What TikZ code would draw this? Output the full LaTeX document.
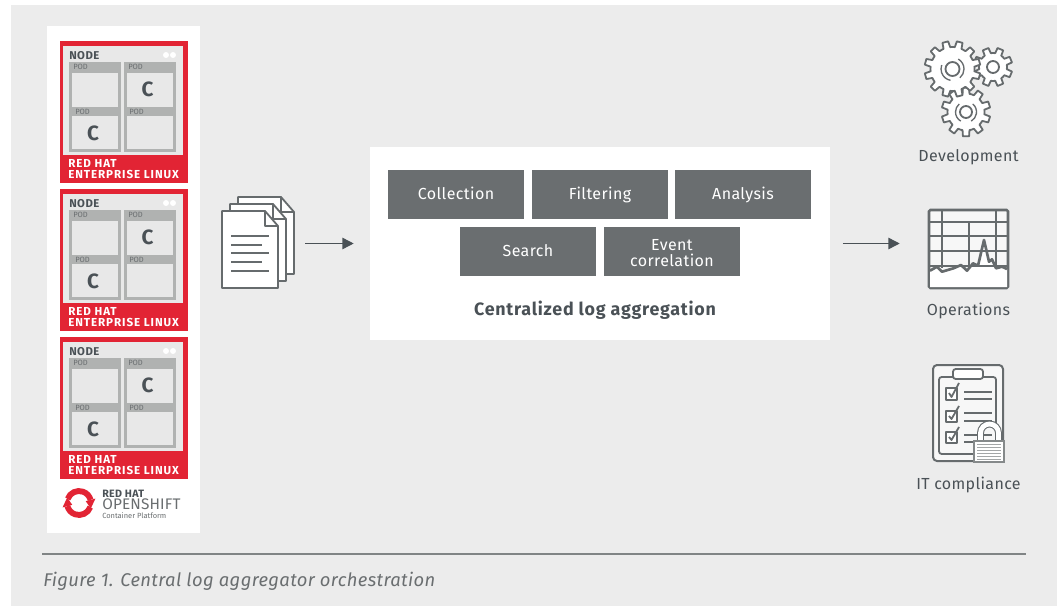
\documentclass[tikz,border=0pt]{standalone}
\usepackage{fontspec}
\setmainfont{Fira Sans}
\usetikzlibrary{arrows.meta}
\definecolor{bgc}{HTML}{ECECEC}
\definecolor{boxc}{HTML}{6A6E70}
\definecolor{inkc}{HTML}{4A5156}
\definecolor{redc}{HTML}{E22434}
\definecolor{podc}{HTML}{B0B2B1}
\definecolor{slotc}{HTML}{E8E8E8}
\definecolor{iconc}{HTML}{666B6D}
\newcommand{\fsz}[1]{\fontsize{#1}{#1}\selectfont}
\tikzset{
  x=0.75pt,y=-0.75pt,
  stepbox/.style={fill=boxc,text=white,minimum width=102pt,minimum height=36.75pt,inner sep=0pt,align=center,font=\fsz{12}\addfontfeatures{LetterSpace=2.5}},
  single/.style={text height=9.5pt,text depth=1.5pt},
  lbl/.style={inner sep=0pt,text=inkc,text height=9.5pt,text depth=1.5pt,font=\fsz{12}\addfontfeatures{LetterSpace=2.2}},
  flow/.style={draw=inkc,line width=1.1pt,-{Triangle[length=8.5pt,width=8.5pt]}},
  icon/.style={draw=iconc,line width=1.35pt,line join=round},
  thin icon/.style={draw=iconc,line width=1pt},
  podlbl/.style={inner sep=0pt,anchor=west,text=boxc,font=\fsz{5.7}},
  cnt/.style={inner sep=0pt,text=inkc,font=\bfseries\fsz{15.5}},
  rhel/.style={inner sep=0pt,anchor=west,text=white,font=\bfseries\fsz{8.7}\addfontfeatures{LetterSpace=8}},
  ghost/.style={inner sep=0pt,draw=none}
}
% gear: centre x,y ; teeth ; outer radius ; root radius
\newcommand{\gear}[5]{%
  \begin{scope}[shift={(#1,#2)}]
    \pgfmathsetmacro{\st}{360/#3}
    \filldraw[icon,fill=white]
      (0:#5) \foreach \k in {1,...,#3}{
        -- ({(\k-1)*\st+0.2*\st}:#5)
        -- ({(\k-1)*\st+0.3*\st}:#4)
        -- ({(\k-1)*\st+0.7*\st}:#4)
        -- ({(\k-1)*\st+0.8*\st}:#5)
        -- ({\k*\st}:#5)
      } -- cycle;
  \end{scope}}
\newcommand{\kubenode}[2]{%
  \begin{scope}[shift={(0,#1)}]
    \fill[redc] (60,41) rectangle (188,183);
    \fill[slotc] (63,46) rectangle (183,155);
    \fill[podc] (69,62) rectangle (121,152);
    \fill[podc] (124,62) rectangle (176,152);
    \fill[slotc] (72,73) rectangle (118,107);
    \fill[slotc] (72,116) rectangle (118,149);
    \fill[slotc] (127,73) rectangle (173,107);
    \fill[slotc] (127,116) rectangle (173,149);
    \fill[white] (166,55) circle (3) (173,55) circle (3);
    \node[inner sep=0pt,anchor=west,text=inkc,font=\bfseries\fsz{8.5}\addfontfeatures{LetterSpace=4}] (nd#2) at (69,55.5) {NODE};
    \node[podlbl] (pa#2) at (73,67) {POD};
    \node[podlbl] (pb#2) at (128,67) {POD};
    \node[podlbl] (pc#2) at (75,112) {POD};
    \node[podlbl] (pd#2) at (129,112) {POD};
    \node[cnt] (ca#2) at (147.5,89) {C};
    \node[cnt] (cb#2) at (93,133) {C};
    \node[rhel] (ra#2) at (68,163) {RED HAT};
    \node[rhel] (rb#2) at (68,174) {ENTERPRISE LINUX};
  \end{scope}}
\newcommand{\page}[2]{%
  \filldraw[icon,fill=white] (#1,#2) -- ++(43,0) -- ++(13,15) -- ++(0,62) -- ++(-56,0) -- cycle;
  \draw[icon] (#1+43,#2) -- ++(0,15) -- ++(13,0);}
\begin{document}
\begin{tikzpicture}
\useasboundingbox (0,0) rectangle (1060,606);
\fill[white] (0,0) rectangle (1060,606);
\fill[bgc] (11,5) rectangle (1057,606);
% left panel
\fill[white] (47,26) rectangle (200,533);
\kubenode{0}{a}
\kubenode{148}{b}
\kubenode{296}{c}
% openshift logo
\begin{scope}[shift={(79,503)}]
  \draw[redc,line width=4.4pt] (20:12) arc (20:165:12);
  \draw[redc,line width=4.4pt] (200:12) arc (200:345:12);
  \fill[redc] (165:17) -- (165:7) -- (205:13) -- cycle;
  \fill[redc] (-15:17) -- (-15:7) -- (25:13) -- cycle;
\end{scope}
\node[inner sep=0pt,anchor=west,text=inkc,font=\bfseries\fsz{8}\addfontfeatures{LetterSpace=3}] (rh) at (102,493.5) {RED HAT};
\node[inner sep=0pt,anchor=west,text=boxc,font=\fsz{11.5}\addfontfeatures{LetterSpace=1}] (os) at (102,504.5) {OPENSHIFT};
\node[inner sep=0pt,anchor=west,text=boxc,font=\fsz{5.6}] (cp) at (102,516) {Container Platform};
% documents
\node[ghost,minimum width=55.5pt,minimum height=68.25pt] (docs) at (258,242) {};
\page{238}{197}
\page{230}{204}
\page{222}{211}
\foreach \yy/\xx in {236/269,245/262,253/269,262/262,271/269}{
  \draw[thin icon] (231,\yy) -- (\xx,\yy);
}
% central panel
\node[fill=white,minimum width=345pt,minimum height=144.75pt,inner sep=0pt] (panel) at (600,243.5) {};
\node[stepbox,single] (coll) at (456,194.5) {Collection};
\node[stepbox,single] (filt) at (600,194.5) {Filtering};
\node[stepbox,single] (anal) at (743,194.5) {Analysis};
\node[stepbox,single] (srch) at (528,251.5) {Search};
\node[stepbox] (evnt) at (672,251.5) {\rule{0pt}{10.5pt}Event\\correlation};
\node[lbl,font=\bfseries\fsz{13.4}\addfontfeatures{LetterSpace=4.2}] (title) at (595,310.5) {Centralized log aggregation};
% gears
\gear{993}{67}{8}{19.5}{14}
\gear{966}{112}{10}{24.5}{18.5}
\gear{952.5}{69}{12}{28}{22}
\draw[icon] (952.5,69) circle (7);
\draw[thin icon] (952.5,69) ++(100:11.5) arc (100:200:11.5);
\draw[thin icon] (952.5,69) ++(-60:11.5) arc (-60:50:11.5);
\draw[icon] (993,67) circle (6);
\draw[icon] (966,112) circle (6);
\draw[thin icon] (966,112) ++(120:10.5) arc (120:230:10.5);
\draw[thin icon] (966,112) ++(-50:10.5) arc (-50:60:10.5);
\node[lbl] (dev) at (968.5,156.5) {Development};
% chart
\node[draw=iconc,line width=1.9pt,fill=bgc!40!white,rounded corners=1pt,minimum width=59.25pt,minimum height=58.5pt,inner sep=0pt] (chart) at (968.5,249) {};
\fill[white] (930,270.7) -- (937,266.7) -- (942,271.7) -- (953.5,268.3) -- (961,265) -- (967,270.7) -- (973,263.3) -- (978,265.7) -- (984,240) -- (989,261.7) -- (992,259.3) -- (996,268.3) -- (1002,266.7) -- (1007,269) -- (1007,287) -- (930,287) -- cycle;
\foreach \xx/\ya/\wd in {942/211/1.2,969/222/0.8,996/211/1.2}{
  \draw[icon,line width=\wd pt] (\xx,\ya) -- (\xx,268);
}
\foreach \yy in {222,236,251,266}{
  \draw[icon,line width=1.1pt] (930,\yy) -- (1007,\yy);
}
\draw[icon,line width=2pt] (930,270.7) -- (937,266.7) -- (942,271.7) -- (953.5,268.3) -- (961,265) -- (967,270.7) -- (973,263.3) -- (978,265.7) -- (984,240) -- (989,261.7) -- (992,259.3) -- (996,268.3) -- (1002,266.7) -- (1007,269);
\node[lbl] (ops) at (968.5,310.5) {Operations};
% clipboard
\draw[icon,fill=bgc!40!white,rounded corners=3pt,line width=1.5pt] (933,365) rectangle (1003,461);
\draw[icon,rounded corners=2pt,fill=white!60!bgc] (939,377) rectangle (996,454);
\filldraw[icon,fill=white,rounded corners=2pt] (953,369) rectangle (983,379);
\foreach \ya/\yb/\la/\lb in {388/400/392/399,411/422/413/421,432/443/435/442}{
  \draw[icon,fill=white] (946,\ya) rectangle (957,\yb);
  \draw[icon] (949,\ya+5) -- (951.5,\yb-3) -- (959,\ya-5);
  \draw[icon] (964,\la) -- (992,\la);
  \draw[icon] (964,\lb) -- (992,\lb);
}
\draw[draw=iconc,line width=5.2pt] (980.5,442) -- (980.5,433) arc (180:360:9) -- (998.5,442);
\draw[draw=white,line width=3.6pt] (980.5,442) -- (980.5,433) arc (180:360:9) -- (998.5,442);
\filldraw[draw=iconc!80!white,line width=0.8pt,fill=white] (974,441) rectangle (1004,462);
\foreach \yy in {444,447,450,453,456,459}{
  \draw[draw=iconc!60!white,line width=0.4pt] (977,\yy) -- (1001,\yy);
}
\node[lbl] (it) at (968.5,484.5) {IT compliance};
% connectors
\draw[flow,shorten <=7.5pt,shorten >=12pt] (docs.east |- panel.west) -- (panel.west);
\draw[flow,shorten <=9.5pt,shorten >=21pt] (panel.east) -- (chart.west |- panel.east);
% caption
\draw[draw=boxc!85!white,line width=0.9pt] (42,554) coordinate (rla) -- (1026,554) coordinate (rlb);
\node[inner sep=0pt,anchor=west,text=boxc,font=\itshape\fsz{13.8}\addfontfeatures{LetterSpace=2}] (cap) at (43,581.5) {Figure 1. Central log aggregator orchestration};
\end{tikzpicture}
\end{document}
